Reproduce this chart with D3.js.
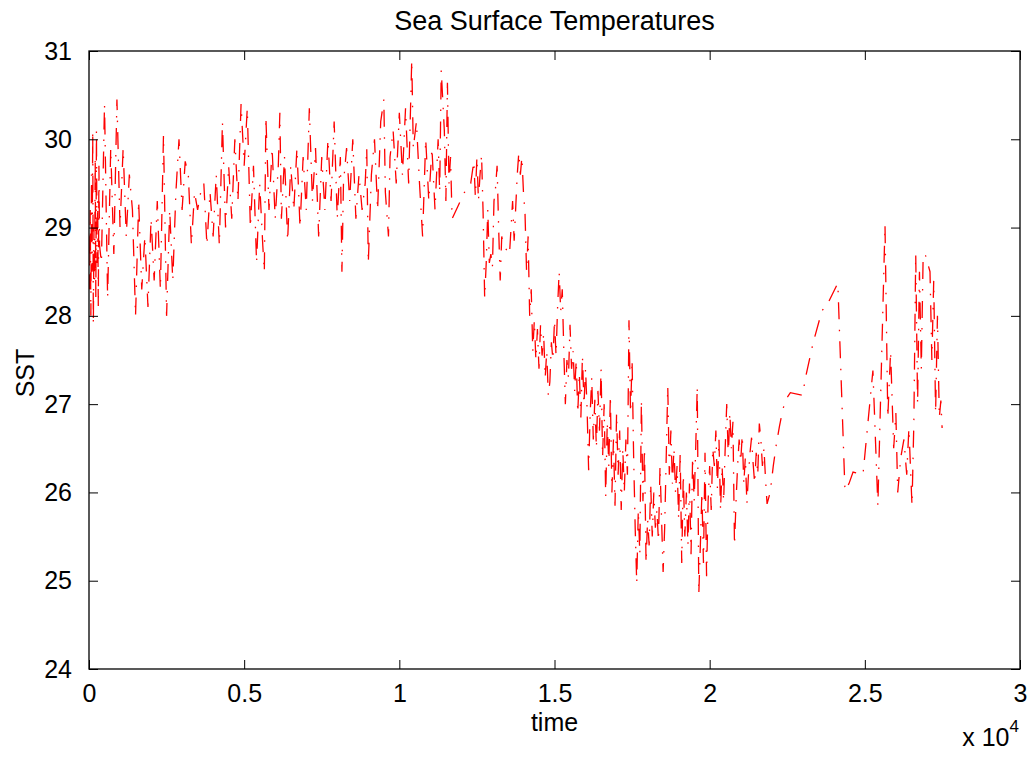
<!DOCTYPE html>
<html>
<head>
<meta charset="utf-8">
<script src="https://cdn.jsdelivr.net/npm/d3@7"></script>
<style>
  body { margin:0; background:white; }
  svg text { font-family: "Liberation Sans", Arial, Helvetica, sans-serif; fill:black; }
</style>
</head>
<body>
<div id="chart"></div>
<script>
// observation times (axis shows them x 10^4)
var time = [
  0,20,40,60,80,100,120,140,160,180,200,220,240,260,280,300,320,340,
  400,500,600,700,800,900,1000,1100,1200,1300,1400,1500,
  1600,1700,1800,1900,2000,2100,2200,2300,2400,2500,
  2600,2700,2800,2900,3000,3100,3200,3300,3400,3500,
  3600,3700,3800,3900,4000,4100,4200,4300,4400,4500,
  4600,4700,4800,4900,5000,5100,5200,5300,5400,5500,
  5600,5650,5700,5800,5900,6000,6100,6150,6200,6300,
  6400,6500,6600,6700,6800,6900,7000,7100,7200,7300,
  7400,7500,7600,7700,7800,7900,8000,8100,8150,8200,
  8300,8400,8500,8600,8700,8800,8900,8950,9000,9100,
  9200,9300,9400,9500,9550,9650,9700,9800,9900,10000,
  10100,10200,10300,10400,10450,10550,10650,10750,10850,10950,
  11050,11150,11250,11300,11350,11450,11500,11550,11600,11650,
  11700,11900,12100,12300,
  12400,12450,12500,12550,12600,12650,12700,12750,12800,12850,
  12900,12950,13000,13050,13100,13150,13200,13250,13300,13350,
  13450,13550,13650,13700,13800,13850,13900,13950,14000,14050,14100,14150,
  14200,14250,14300,14350,14400,14450,14500,14550,14600,14650,
  14700,14750,14800,14850,14900,14950,15000,15050,15100,15150,
  15200,15250,15300,15350,15400,15450,15500,15550,15600,15650,
  15700,15750,15800,15850,15900,15950,16000,16050,16100,16150,
  16200,16250,16300,16350,16400,16450,16500,16550,16600,16650,
  16700,16750,16800,16850,16900,16950,17000,17050,17100,17150,
  17200,17250,17300,17350,17400,17450,17500,17550,17600,17650,
  17700,17750,17800,17850,17900,17950,18000,18050,18100,18150,
  18200,18250,18300,18350,18400,18450,18500,18550,18600,18650,
  18700,18750,18800,18850,18900,18950,19000,19050,19100,19150,
  19200,19250,19300,19350,19400,19450,19500,19550,19600,19650,
  19700,19750,19800,19850,19900,19950,20000,20050,20100,20150,
  20200,20250,20300,20350,20400,20450,20500,20550,20600,20650,
  20700,20750,20800,20850,20900,20950,21000,21050,21100,21150,
  21200,21250,21300,21350,21400,21450,21500,21550,21600,21650,
  21700,21750,21800,21850,21950,22050,22150,22250,22350,22450,22600,
  23000,23070,23330,23620,23780,24130,24360,24490,24620,24940,
  25260,25420,25650,25740,25830,25930,26000,26060,26160,26260,
  26350,26420,26520,26580,26640,26700,26760,26820,26880,26960,
  27100,27160,27220,27280,27340,27400,27450,27490
];

var sst = [
  28.9,28.3,29.2,28.0,29.6,28.5,30.1,27.9,29.0,28.4,29.8,28.2,30.1,28.6,29.3,28.1,29.7,28.8,
  28.6,30.4,28.2,29.9,28.7,30.45,29.0,29.9,28.9,29.6,29.2,28.0,
  29.3,28.3,28.9,28.1,29.1,28.4,29.3,28.3,30.05,28.0,
  29.2,28.4,29.4,30.0,29.2,29.75,29.6,28.8,29.4,29.2,
  29.4,29.5,28.8,29.4,28.9,29.6,28.8,30.2,29.0,29.7,
  29.1,30.0,29.3,30.4,29.7,30.35,29.0,29.7,28.6,29.5,
  28.8,28.5,30.25,29.2,29.9,29.1,29.7,30.3,29.1,29.8,
  28.85,29.7,29.2,29.9,29.0,29.8,29.2,30.35,29.3,29.9,
  28.9,29.8,29.2,30.0,29.3,30.2,29.1,29.8,28.5,29.5,
  29.9,29.3,30.0,29.1,29.6,29.2,29.5,29.9,28.6,29.6,
  30.0,29.2,30.2,30.45,29.4,28.9,29.8,30.1,29.5,30.3,
  29.6,30.35,29.5,30.9,29.9,30.2,29.5,28.9,30.0,29.3,
  29.9,29.2,30.0,29.4,30.78,30.1,29.3,30.64,29.5,29.8,
  29.1,29.25,29.4,29.5,
  29.75,29.35,29.8,29.3,29.6,29.82,29.16,28.2,28.6,29.2,
  28.6,28.7,28.55,29.3,29.45,29.7,29.0,28.4,28.9,28.8,
  28.75,28.7,29.3,28.85,29.6,29.85,29.6,29.8,29.4,29.16,28.5,28.9,
  28.0,28.3,27.6,27.95,27.5,27.85,27.4,27.9,27.55,27.8,
  27.3,27.6,27.1,27.25,27.7,27.5,27.95,27.55,28.1,28.5,
  28.05,28.3,27.6,27.0,27.5,27.3,27.9,27.4,27.6,27.15,
  27.5,26.9,27.35,26.85,27.55,27.0,27.4,26.95,26.25,26.9,
  27.3,26.6,27.05,26.5,27.15,26.7,27.4,26.4,27.0,25.95,
  26.8,26.3,27.1,26.0,26.6,25.85,26.9,26.2,26.7,25.8,
  26.5,26.0,26.6,26.2,27.95,26.9,27.5,26.4,25.6,24.97,
  25.8,25.3,27.05,25.9,26.5,25.2,25.7,25.4,26.1,25.5,
  26.0,25.6,25.8,25.45,26.3,25.7,25.1,25.6,26.4,27.2,
  26.2,26.7,26.1,26.5,26.0,26.3,25.7,26.45,25.2,26.2,
  25.5,26.0,25.4,26.1,25.3,26.4,25.9,26.5,27.2,24.85,
  25.4,26.0,25.2,26.45,25.05,25.9,26.3,25.8,26.5,26.3,
  26.7,26.05,26.6,25.8,26.3,25.9,26.5,27.0,26.4,26.9,
  26.5,26.8,25.4,25.9,26.3,26.6,26.35,26.65,26.1,26.4,
  25.87,26.2,26.45,26.62,26.33,26.1,26.45,26.2,26.78,26.6,
  26.3,26.5,26.15,25.87,26.0,26.3,26.55,26.75,26.93,27.05,27.13,
  27.1,27.27,27.69,28.06,28.12,28.37,26.02,26.1,26.23,26.2,
  27.38,25.85,29.03,26.85,27.6,26.5,26.9,26.0,26.4,26.6,
  26.2,26.73,25.85,26.8,28.7,27.0,28.5,27.4,28.7,28.68,
  28.5,27.5,28.4,26.9,28.0,26.85,27.04,26.73
];

var xTicks = [0, 5000, 10000, 15000, 20000, 25000, 30000];
var xTickLabels = ["0", "0.5", "1", "1.5", "2", "2.5", "3"];
var yTicks = [24, 25, 26, 27, 28, 29, 30, 31];

var W = 1034, H = 757;
var margin = { left:89, right:14, top:51, bottom:88 };
var pw = W - margin.left - margin.right,
    ph = H - margin.top - margin.bottom;

var svg = d3.select("#chart").append("svg")
  .attr("width", W).attr("height", H);

var x = d3.scaleLinear().domain([0, 30000]).range([0, pw]);
var y = d3.scaleLinear().domain([24, 31]).range([ph, 0]);

var g = svg.append("g")
  .attr("transform", "translate(" + margin.left + "," + margin.top + ")");

g.append("clipPath").attr("id", "plotclip")
  .append("rect").attr("width", pw).attr("height", ph);

var pts = time.map(function(t, i) { return [t, sst[i]]; });

var line = d3.line()
  .x(function(d) { return x(d[0]); })
  .y(function(d) { return y(d[1]); });

g.append("path")
  .datum(pts)
  .attr("clip-path", "url(#plotclip)")
  .attr("d", line)
  .attr("fill", "none")
  .attr("stroke", "#ff0000")
  .attr("stroke-width", 1.3)
  .attr("stroke-dasharray", "17,10.5,1.5,10");

// axes, MATLAB style: ticks inward on all four sides
var tickLen = 9;
var axStyle = function(sel) {
  sel.select(".domain").remove();
  sel.selectAll(".tick line").attr("stroke", "black").attr("stroke-width", 1);
  sel.selectAll(".tick text")
    .style("font-size", "25px")
    .style("font-family", "Liberation Sans, Arial, sans-serif");
};

g.append("g").attr("transform", "translate(0," + ph + ")")
  .call(d3.axisBottom(x).tickValues(xTicks)
    .tickFormat(function(d, i) { return xTickLabels[i]; })
    .tickSizeInner(-tickLen).tickSizeOuter(0).tickPadding(tickLen + 6))
  .call(axStyle);

g.append("g")
  .call(d3.axisTop(x).tickValues(xTicks).tickFormat("")
    .tickSizeInner(-tickLen).tickSizeOuter(0))
  .call(axStyle);

g.append("g")
  .call(d3.axisLeft(y).tickValues(yTicks).tickFormat(d3.format("d"))
    .tickSizeInner(-tickLen).tickSizeOuter(0).tickPadding(tickLen + 8))
  .call(axStyle);

g.append("g").attr("transform", "translate(" + pw + ",0)")
  .call(d3.axisRight(y).tickValues(yTicks).tickFormat("")
    .tickSizeInner(-tickLen).tickSizeOuter(0))
  .call(axStyle);

g.append("rect")
  .attr("width", pw).attr("height", ph)
  .attr("fill", "none").attr("stroke", "black").attr("stroke-width", 1.3);

// labels
svg.append("text")
  .attr("x", margin.left + pw / 2).attr("y", 30)
  .attr("text-anchor", "middle")
  .style("font-size", "27px")
  .text("Sea Surface Temperatures");

svg.append("text")
  .attr("x", margin.left + pw / 2).attr("y", 731)
  .attr("text-anchor", "middle")
  .style("font-size", "25px")
  .text("time");

svg.append("text")
  .attr("transform", "translate(34,373) rotate(-90)")
  .attr("text-anchor", "middle")
  .style("font-size", "25px")
  .text("SST");

var mult = svg.append("text")
  .attr("x", 1019).attr("y", 746)
  .attr("text-anchor", "end")
  .style("font-size", "25px");
mult.append("tspan").text("x 10");
mult.append("tspan").attr("dy", -14).style("font-size", "17px").text("4");
</script>
</body>
</html>
